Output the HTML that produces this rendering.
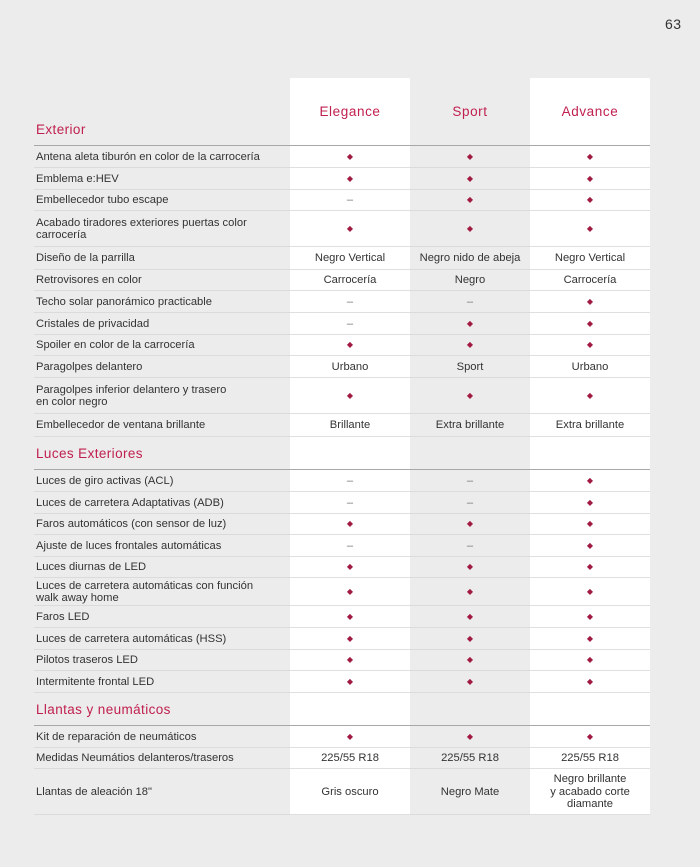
<!DOCTYPE html>
<html><head><meta charset="utf-8"><style>
*{margin:0;padding:0;box-sizing:border-box}
body{width:700px;height:867px;background:#ececec;position:relative;overflow:hidden;font-family:"Liberation Sans",sans-serif;color:#333}
.col{position:absolute;top:78px;height:737px;width:120px;background:#fff}
.num{position:absolute;left:665px;top:16px;font-size:14px;color:#333;letter-spacing:0.5px}
.hd{position:absolute;top:104px;width:120px;text-align:center;font-size:13.5px;color:#c0204f;letter-spacing:0.6px}
#t{position:absolute;left:34px;top:79px;width:616px}
.r{display:flex;align-items:center;border-bottom:1px solid rgba(215,215,215,0.8);font-size:11.2px;padding-top:1px}
.r .l{width:256px;padding-left:2px;line-height:12.5px}
.r .c{width:120px;text-align:center;line-height:12.5px;font-size:11.2px}
.sec{display:flex;align-items:flex-end;border-bottom:1.5px solid #a8a8a8;font-size:13.5px;color:#c0204f;padding:0 0 8px 2px;letter-spacing:0.4px}
.r .c.d{color:#a01a42;font-size:8px}
.m{color:#777}
</style></head><body>
<div class="num">63</div>
<div class="col" style="left:290px"></div>
<div class="col" style="left:530px"></div>
<div class="hd" style="left:290px">Elegance</div>
<div class="hd" style="left:410px">Sport</div>
<div class="hd" style="left:530px">Advance</div>
<div id="t">
<div class="sec" style="height:67px">Exterior</div>
<div class="r" style="height:22px"><div class="l">Antena aleta tiburón en color de la carrocería</div><div class="c d">◆</div><div class="c d">◆</div><div class="c d">◆</div></div>
<div class="r" style="height:22px"><div class="l">Emblema e:HEV</div><div class="c d">◆</div><div class="c d">◆</div><div class="c d">◆</div></div>
<div class="r" style="height:21px"><div class="l">Embellecedor tubo escape</div><div class="c m">–</div><div class="c d">◆</div><div class="c d">◆</div></div>
<div class="r" style="height:36px"><div class="l">Acabado tiradores exteriores puertas color<br>carrocería</div><div class="c d">◆</div><div class="c d">◆</div><div class="c d">◆</div></div>
<div class="r" style="height:23px"><div class="l">Diseño de la parrilla</div><div class="c">Negro Vertical</div><div class="c">Negro nido de abeja</div><div class="c">Negro Vertical</div></div>
<div class="r" style="height:21px"><div class="l">Retrovisores en color</div><div class="c">Carrocería</div><div class="c">Negro</div><div class="c">Carrocería</div></div>
<div class="r" style="height:22px"><div class="l">Techo solar panorámico practicable</div><div class="c m">–</div><div class="c m">–</div><div class="c d">◆</div></div>
<div class="r" style="height:22px"><div class="l">Cristales de privacidad</div><div class="c m">–</div><div class="c d">◆</div><div class="c d">◆</div></div>
<div class="r" style="height:21px"><div class="l">Spoiler en color de la carrocería</div><div class="c d">◆</div><div class="c d">◆</div><div class="c d">◆</div></div>
<div class="r" style="height:22px"><div class="l">Paragolpes delantero</div><div class="c">Urbano</div><div class="c">Sport</div><div class="c">Urbano</div></div>
<div class="r" style="height:36px"><div class="l">Paragolpes inferior delantero y trasero<br>en color negro</div><div class="c d">◆</div><div class="c d">◆</div><div class="c d">◆</div></div>
<div class="r" style="height:23px"><div class="l">Embellecedor de ventana brillante</div><div class="c">Brillante</div><div class="c">Extra brillante</div><div class="c">Extra brillante</div></div>
<div class="sec" style="height:33px">Luces Exteriores</div>
<div class="r" style="height:22px"><div class="l">Luces de giro activas (ACL)</div><div class="c m">–</div><div class="c m">–</div><div class="c d">◆</div></div>
<div class="r" style="height:22px"><div class="l">Luces de carretera Adaptativas (ADB)</div><div class="c m">–</div><div class="c m">–</div><div class="c d">◆</div></div>
<div class="r" style="height:21px"><div class="l">Faros automáticos (con sensor de luz)</div><div class="c d">◆</div><div class="c d">◆</div><div class="c d">◆</div></div>
<div class="r" style="height:22px"><div class="l">Ajuste de luces frontales automáticas</div><div class="c m">–</div><div class="c m">–</div><div class="c d">◆</div></div>
<div class="r" style="height:21px"><div class="l">Luces diurnas de LED</div><div class="c d">◆</div><div class="c d">◆</div><div class="c d">◆</div></div>
<div class="r" style="height:28px"><div class="l">Luces de carretera automáticas con función<br>walk away home</div><div class="c d">◆</div><div class="c d">◆</div><div class="c d">◆</div></div>
<div class="r" style="height:22px"><div class="l">Faros LED</div><div class="c d">◆</div><div class="c d">◆</div><div class="c d">◆</div></div>
<div class="r" style="height:22px"><div class="l">Luces de carretera automáticas (HSS)</div><div class="c d">◆</div><div class="c d">◆</div><div class="c d">◆</div></div>
<div class="r" style="height:21px"><div class="l">Pilotos traseros LED</div><div class="c d">◆</div><div class="c d">◆</div><div class="c d">◆</div></div>
<div class="r" style="height:22px"><div class="l">Intermitente frontal LED</div><div class="c d">◆</div><div class="c d">◆</div><div class="c d">◆</div></div>
<div class="sec" style="height:33px">Llantas y neumáticos</div>
<div class="r" style="height:22px"><div class="l">Kit de reparación de neumáticos</div><div class="c d">◆</div><div class="c d">◆</div><div class="c d">◆</div></div>
<div class="r" style="height:21px"><div class="l">Medidas Neumátios delanteros/traseros</div><div class="c">225/55 R18</div><div class="c">225/55 R18</div><div class="c">225/55 R18</div></div>
<div class="r" style="height:46px"><div class="l">Llantas de aleación 18"</div><div class="c">Gris oscuro</div><div class="c">Negro Mate</div><div class="c">Negro brillante<br>y acabado corte<br>diamante</div></div>
</div>
</body></html>
